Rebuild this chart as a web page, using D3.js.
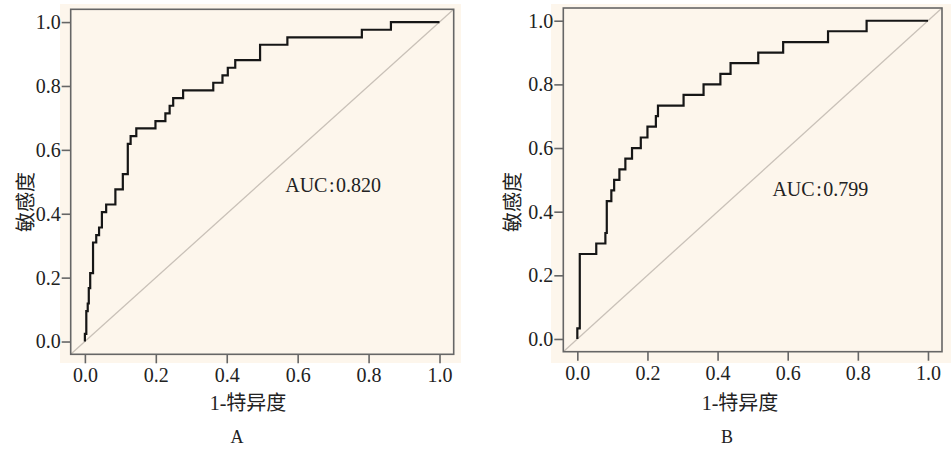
<!DOCTYPE html>
<html>
<head>
<meta charset="utf-8">
<script src="https://cdn.jsdelivr.net/npm/d3@7/dist/d3.min.js"></script>
<style>
  body { margin: 0; background: #fff; }
  svg { display: block; }
  text { font-family: "Liberation Serif", "Noto Sans CJK SC", serif; fill: #222; }
</style>
</head>
<body>
<svg id="chart" width="951" height="450"></svg>
<script>
// ROC points (1 - specificity, sensitivity)
var fprA = [0, 0, 0.004, 0.008, 0.011, 0.015, 0.023, 0.032, 0.040, 0.048, 0.060, 0.086, 0.107,
            0.121, 0.129, 0.145, 0.199, 0.227, 0.239, 0.249, 0.277, 0.362, 0.388, 0.403, 0.424,
            0.494, 0.571, 0.781, 0.863, 1.0];
var tprA = [0, 0.024, 0.095, 0.119, 0.167, 0.214, 0.310, 0.333, 0.357, 0.405, 0.429, 0.476, 0.524,
            0.619, 0.643, 0.667, 0.690, 0.714, 0.738, 0.762, 0.786, 0.810, 0.833, 0.857, 0.881,
            0.929, 0.952, 0.976, 1.0, 1.0];

var fprB = [0, 0, 0.007, 0.054, 0.080, 0.084, 0.097, 0.105, 0.120, 0.137, 0.156, 0.181, 0.200,
            0.224, 0.230, 0.303, 0.360, 0.408, 0.437, 0.516, 0.587, 0.715, 0.825, 1.0];
var tprB = [0, 0.033, 0.267, 0.300, 0.333, 0.433, 0.467, 0.500, 0.533, 0.567, 0.600, 0.633, 0.667,
            0.700, 0.733, 0.767, 0.800, 0.833, 0.867, 0.900, 0.933, 0.967, 1.0, 1.0];

var ticks = [0, 0.2, 0.4, 0.6, 0.8, 1.0];
var xTitle = '1-特异度';
var yTitle = '敏感度';
var aucA = 'AUC:0.820';
var aucB = 'AUC:0.799';

var svg = d3.select('#chart');

function drawPanel(p) {
    var g = svg.append('g');

    // beige background
    g.append('rect')
        .attr('x', p.bg[0]).attr('y', p.bg[1])
        .attr('width', p.bg[2] - p.bg[0]).attr('height', p.bg[3] - p.bg[1])
        .attr('fill', '#fdf6ec');

    var x = d3.scaleLinear().domain([-0.04, 1.04]).range([p.left, p.right]);
    var y = d3.scaleLinear().domain([-0.04, 1.04]).range([p.bottom, p.top]);

    // reference diagonal
    g.append('line')
        .attr('x1', x(-0.04)).attr('y1', y(-0.04))
        .attr('x2', x(1.04)).attr('y2', y(1.04))
        .attr('stroke', '#c9c1b8')
        .attr('stroke-width', 1.3);

    var pts = p.fpr.map(function(d, i) { return [d, p.tpr[i]]; });
    var line = d3.line()
        .x(function(d) { return x(d[0]); })
        .y(function(d) { return y(d[1]); })
        .curve(d3.curveStepAfter);

    g.append('path')
        .datum(pts)
        .attr('d', line)
        .attr('fill', 'none')
        .attr('stroke', '#161616')
        .attr('stroke-width', 2.2)
        .attr('stroke-linejoin', 'miter');

    // frame
    g.append('rect')
        .attr('x', p.left).attr('y', p.top)
        .attr('width', p.right - p.left).attr('height', p.bottom - p.top)
        .attr('fill', 'none')
        .attr('stroke', '#666')
        .attr('stroke-width', 1.6);

    var fmt = d3.format('.1f');

    var xa = g.append('g')
        .attr('transform', 'translate(0,' + p.bottom + ')')
        .call(d3.axisBottom(x).tickValues(ticks).tickFormat(fmt).tickSize(9).tickPadding(5));
    var ya = g.append('g')
        .attr('transform', 'translate(' + p.left + ',0)')
        .call(d3.axisLeft(y).tickValues(ticks).tickFormat(fmt).tickSize(9).tickPadding(1));

    [xa, ya].forEach(function(a) {
        a.select('.domain').remove();
        a.selectAll('.tick line').attr('stroke', '#666').attr('stroke-width', 1.6);
        a.selectAll('.tick text')
            .style('font-family', '"Liberation Serif", serif')
            .style('font-size', '20px')
            .attr('fill', '#222');
    });

    // AUC note, colon given a little room as in the source
    var parts = p.aucText.split(':');
    var t = g.append('text')
        .attr('x', x(p.auc[0])).attr('y', y(p.auc[1]))
        .attr('text-anchor', 'middle')
        .style('font-size', '20px');
    t.append('tspan').text(parts[0]);
    t.append('tspan').attr('dx', 1.5).text(':');
    t.append('tspan').attr('dx', 1.5).text(parts[1]);

    g.append('text')
        .attr('x', p.xt[0]).attr('y', p.xt[1])
        .attr('text-anchor', 'middle')
        .style('font-size', '20px')
        .text(xTitle);

    g.append('text')
        .attr('transform', 'translate(' + p.yt[0] + ',' + p.yt[1] + ') rotate(-90)')
        .attr('text-anchor', 'middle')
        .attr('dy', '0.35em')
        .style('font-size', '20px')
        .text(yTitle);

    g.append('text')
        .attr('x', p.lab[0]).attr('y', p.lab[1])
        .attr('text-anchor', 'middle')
        .style('font-size', '18px')
        .text(p.label);
}

drawPanel({
    bg: [60, 4, 461, 363],
    left: 70.7, right: 453.7, top: 9.3, bottom: 354.3,
    fpr: fprA, tpr: tprA,
    auc: [0.70, 0.467], aucText: aucA,
    xt: [248, 410], yt: [26, 202], lab: [237, 443], label: 'A'
});

drawPanel({
    bg: [551, 4, 951, 363],
    left: 563.3, right: 942, top: 8, bottom: 351.7,
    fpr: fprB, tpr: tprB,
    auc: [0.693, 0.45], aucText: aucB,
    xt: [740, 410], yt: [513, 202], lab: [727, 443], label: 'B'
});
</script>
</body>
</html>
